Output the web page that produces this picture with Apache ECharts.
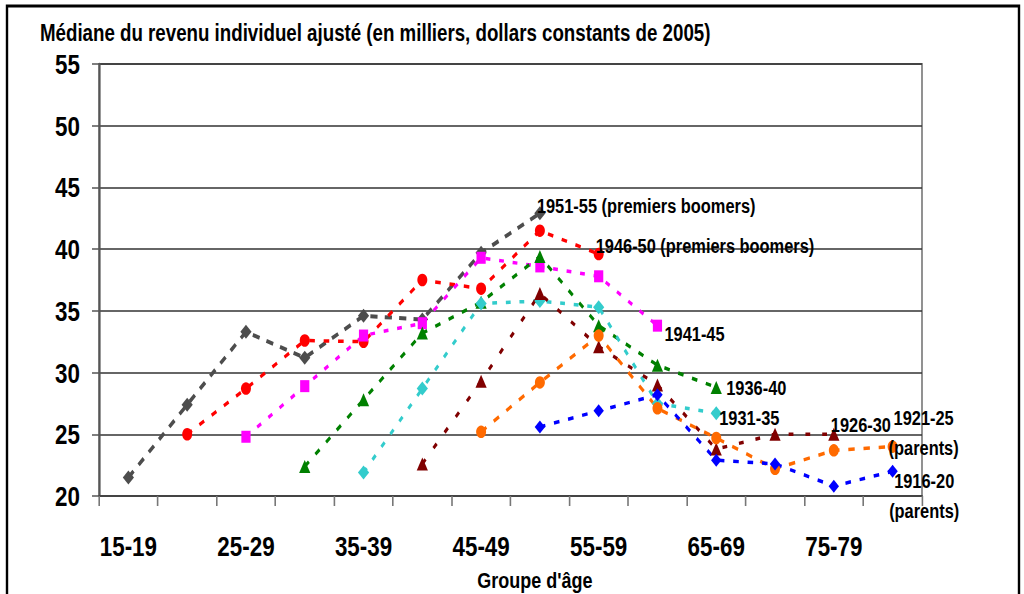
<!DOCTYPE html>
<html>
<head>
<meta charset="utf-8">
<title>Médiane du revenu individuel ajusté</title>
<script src="https://cdn.jsdelivr.net/npm/echarts@6/dist/echarts.min.js"></script>
<style>
  html, body { margin: 0; padding: 0; background: #fff; overflow: hidden; }
  /* Le graphique est dessiné plus large puis resserré horizontalement,
     ce qui donne le caractère étroit du texte et des marqueurs. */
  #chart { width: 1280px; height: 594px; transform: scaleX(0.8); transform-origin: 0 0; }
</style>
</head>
<body>
<div id="chart"></div>
<script>
// Groupes d'âge (axe horizontal)
const ages = ['15-19', '20-24', '25-29', '30-34', '35-39', '40-44', '45-49',
              '50-54', '55-59', '60-64', '65-69', '70-74', '75-79', '80-84'];

// Médiane du revenu par cohorte de naissance (milliers de dollars de 2005)
const c1951 = [21.5, 27.4, 33.3, 31.2, 34.6, 34.3, 39.7, 42.9, null, null, null, null, null, null];
const c1946 = [null, 25.0, 28.7, 32.6, 32.5, 37.5, 36.8, 41.5, 39.6, null, null, null, null, null];
const c1941 = [null, null, 24.8, 28.9, 33.0, 34.0, 39.3, 38.6, 37.8, 33.8, null, null, null, null];
const c1936 = [null, null, null, 22.4, 27.8, 33.2, 35.7, 39.4, 33.8, 30.6, 28.8, null, null, null];
const c1931 = [null, null, null, null, 21.9, 28.7, 35.6, 35.8, 35.3, 27.5, 26.7, null, null, null];
const c1926 = [null, null, null, null, null, 22.6, 29.3, 36.4, 32.1, 29.0, 23.8, 25.0, 25.0, null];
const c1921 = [null, null, null, null, null, null, 25.2, 29.2, 33.0, 27.1, 24.7, 22.2, 23.7, 24.0];
const c1916 = [null, null, null, null, null, null, null, 25.6, 26.9, 28.2, 22.9, 22.6, 20.8, 22.0];

const cohortNames = ['1951-55 (premiers boomers)', '1946-50 (premiers boomers)', '1941-45', '1936-40',
                     '1931-35', '1926-30', '1921-25\n(parents)', '1916-20\n(parents)'];

const FONT = "'Liberation Sans', Arial, sans-serif";

// Apparence de chaque cohorte
const styles = [
  { data: c1951, color: '#4d4d4d', symbol: 'diamond',  size: [14, 14], dash: [9, 9],  width: 4,   lab: { offset: [-10.75, -8] } },
  { data: c1946, color: '#ff0000', symbol: 'circle',   size: [12.5, 12.5], dash: [7, 11], width: 3.5, lab: { offset: [-10, -8.5] } },
  { data: c1941, color: '#ff00ff', symbol: 'rect',     size: [11.5, 12], dash: [6, 11], width: 3.5, lab: { offset: [3, 8] } },
  { data: c1936, color: '#008000', symbol: 'triangle', size: [14, 13], dash: [7, 11], width: 3.5, lab: { offset: [5.5, 0] } },
  { data: c1931, color: '#33cccc', symbol: 'diamond',  size: [14, 14], dash: [6, 11], width: 3.5, lab: { offset: [-3.25, 4.5] } },
  { data: c1926, color: '#800000', symbol: 'triangle', size: [14, 13], dash: [6, 15], width: 3.5, lab: { offset: [-10.75, -9] } },
  { data: c1921, color: '#ff6a00', symbol: 'circle',   size: [12.5, 12.5], dash: [8, 11], width: 3.5, lab: { offset: [32.5, -14], align: 'center' } },
  { data: c1916, color: '#0000ff', symbol: 'diamond',  size: [13, 13], dash: [7, 11], width: 3.5, lab: { offset: [33, 25], align: 'center' } }
];

function buildSeries(st, name) {
  let last = -1;
  st.data.forEach((v, i) => { if (v !== null) last = i; });
  const data = st.data.map((v, i) => {
    if (i !== last) return v;
    return {
      value: v,
      label: {
        show: true,
        position: 'right',
        distance: 0,
        offset: st.lab.offset,
        align: st.lab.align || 'left',
        verticalAlign: 'middle',
        formatter: name,
        color: '#000',
        fontFamily: FONT,
        fontWeight: 'bold',
        fontSize: 20.5,
        lineHeight: 30
      }
    };
  });
  return {
    name: name,
    type: 'line',
    data: data,
    symbol: st.symbol,
    symbolSize: st.size,
    connectNulls: false,
    animation: false,
    lineStyle: { color: st.color, width: st.width, type: st.dash },
    itemStyle: { color: st.color },
    label: { show: false }
  };
}

const chart = echarts.init(document.getElementById('chart'), null, { renderer: 'svg' });

chart.setOption({
  animation: false,
  backgroundColor: '#fff',
  title: {
    text: 'Médiane du revenu individuel ajusté (en milliers, dollars constants de 2005)',
    left: 50,
    top: 21,
    padding: 0,
    textStyle: { fontFamily: FONT, fontWeight: 'bold', fontSize: 23.4, color: '#000' }
  },
  graphic: [{
    type: 'rect',
    silent: true,
    shape: { x: 8.75, y: 6, width: 1265, height: 700 },
    style: { fill: null, stroke: '#000', lineWidth: 3 }
  }],
  grid: {
    left: 123.75, right: 127.5, top: 64, bottom: 98,
    outerBoundsMode: 'none',
    containLabel: false,
    show: true, borderColor: '#777', borderWidth: 2, backgroundColor: 'transparent'
  },
  xAxis: {
    type: 'category',
    data: ages,
    boundaryGap: true,
    name: "Groupe d'âge",
    nameLocation: 'middle',
    nameGap: 73,
    nameTextStyle: { fontFamily: FONT, fontWeight: 'bold', fontSize: 22.5, lineHeight: 22, color: '#000', padding: [0, 0, 0, 61] },
    axisLine: { lineStyle: { color: '#444', width: 2 } },
    axisTick: { show: true, interval: 0, length: 10, lineStyle: { color: '#777', width: 2 } },
    axisLabel: { interval: 1, margin: 36, fontFamily: FONT, fontWeight: 'bold', fontSize: 28, color: '#000' },
    splitLine: { show: false }
  },
  yAxis: {
    type: 'value',
    min: 20, max: 55, interval: 5,
    axisLine: { show: true, lineStyle: { color: '#555', width: 2.5 } },
    axisTick: { show: true, length: 8.75, lineStyle: { color: '#555', width: 1.5 } },
    axisLabel: { margin: 23.75, fontFamily: FONT, fontWeight: 'bold', fontSize: 28, color: '#000' },
    splitLine: { show: true, lineStyle: { color: '#333', width: 1.5 } }
  },
  series: styles.map((st, i) => buildSeries(st, cohortNames[i]))
});
</script>
</body>
</html>
